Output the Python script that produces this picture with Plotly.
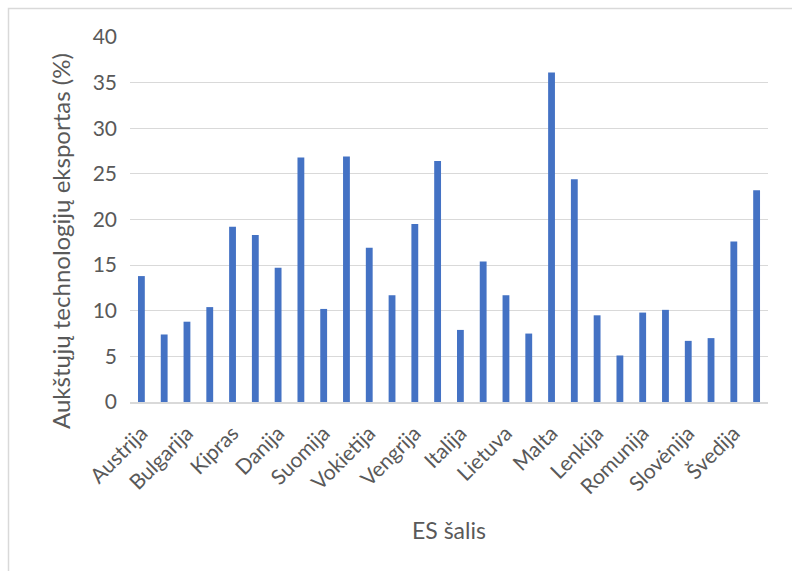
import plotly.graph_objects as go

countries = ["Austrija", "Belgija", "Bulgarija", "Kroatija", "Kipras", "Čekija", "Danija",
             "Estija", "Suomija", "Prancūzija", "Vokietija", "Graikija", "Vengrija", "Airija",
             "Italija", "Latvija", "Lietuva", "Liuksemburgas", "Malta", "Nyderlandai",
             "Lenkija", "Portugalija", "Romunija", "Slovakija", "Slovėnija", "Ispanija",
             "Švedija", "Jungtinė Karalystė"]
values = [13.8, 7.4, 8.8, 10.4, 19.2, 18.3, 14.7, 26.8, 10.2, 26.9, 16.9, 11.7, 19.5, 26.4,
          7.9, 15.4, 11.7, 7.5, 36.1, 24.4, 9.5, 5.1, 9.8, 10.1, 6.7, 7.0, 17.6, 23.2]
shown_labels = countries[::2]
y_ticks = [0, 5, 10, 15, 20, 25, 30, 35, 40]
x_title = "ES šalis"
y_title = "Aukštųjų technologijų eksportas (%)"

W, H = 792, 571
L, R, T, B = 130, 24, 37, 169
pw, ph = W - L - R, H - T - B

fig = go.Figure(go.Bar(x=countries, y=values, marker=dict(color="#4472C4", line=dict(width=0)),
                       width=0.3))

FONT = "Lato, 'Open Sans', sans-serif"
TXT = "#595959"
fig.update_layout(
    width=W, height=H,
    margin=dict(l=L, r=R, t=T, b=B),
    paper_bgcolor="white", plot_bgcolor="white",
    font=dict(family=FONT, color=TXT),
    showlegend=False,
    xaxis=dict(
        tickmode="array", tickvals=shown_labels, ticktext=shown_labels,
        tickangle=-45, tickfont=dict(size=21, color=TXT),
        showgrid=False, showline=True, linecolor="#d9d9d9", linewidth=1.5,
        ticks="", ticklen=0, ticklabelstandoff=9, ticklabelshift=0,
    ),
    yaxis=dict(
        range=[0, 40], tickmode="array", tickvals=y_ticks,
        tickfont=dict(size=21, color=TXT),
        showgrid=True, gridcolor="#d9d9d9", gridwidth=1,
        zeroline=False, showline=False, ticks="", ticklabelstandoff=12,
    ),
    annotations=[
        dict(text=y_title, textangle=-90, xref="paper", yref="paper",
             x=(61 - L) / pw, y=(H - B - 241) / ph, xanchor="center", yanchor="middle",
             showarrow=False, font=dict(size=24, color=TXT)),
        dict(text=x_title, xref="paper", yref="paper",
             x=(449 - L) / pw, y=(H - B - 530) / ph, xanchor="center", yanchor="middle",
             showarrow=False, font=dict(size=23, color=TXT)),
    ],
    shapes=[dict(type="rect", xref="paper", yref="paper",
                 x0=(8.5 - L) / pw, x1=(W + 10 - L) / pw,
                 y0=-(H + 10 - (H - B)) / ph, y1=(H - B - 8.5) / ph,
                 line=dict(color="#d9d9d9", width=1.5), layer="below")],
)

fig.write_html("out.html")
